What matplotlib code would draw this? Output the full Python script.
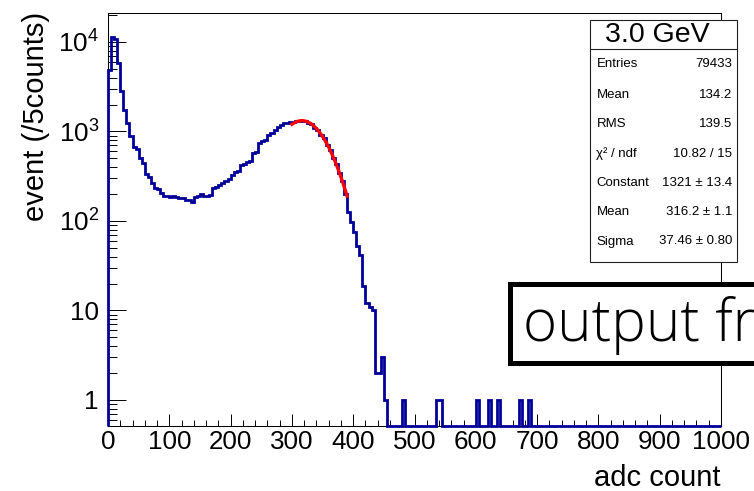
import numpy as np
import matplotlib.pyplot as plt
from matplotlib.patches import Rectangle
from matplotlib.lines import Line2D
from matplotlib.ticker import FixedLocator, FixedFormatter, MultipleLocator, LogLocator, NullFormatter

plt.rcParams['font.family'] = ['Liberation Sans', 'DejaVu Sans']
plt.rcParams['mathtext.fontset'] = 'custom'
plt.rcParams['mathtext.rm'] = 'Liberation Sans'
plt.rcParams['mathtext.it'] = 'Liberation Sans:italic'

# ---- data ----
bin_width = 5  # adc counts per bin
# counts for bins 0..90 (0-455 adc)
counts_low = [4900, 11500, 10800, 5800, 2850, 1750, 1250, 890, 670, 640,
              505, 445, 335, 310, 266, 234, 228, 206, 190, 192,
              186, 188, 187, 180, 179, 173, 171, 164, 186, 188,
              198, 190, 189, 195, 232, 240, 252, 265, 283, 295,
              325, 352, 365, 420, 432, 458, 465, 570, 590, 735,
              790, 805, 912, 955, 1035, 1130, 1175, 1230, 1255, 1290,
              1265, 1295, 1305, 1320, 1295, 1250, 1215, 1105, 1045, 915,
              845, 710, 615, 510, 430, 345, 278, 200, 127, 98,
              76, 52, 42, 19, 12, 11, 10, 2, 2, 3,
              1]
# lone single-count bins further out (left edge of bin, adc)
single_hits = [480, 535, 540, 600, 620, 635, 670, 685]

# gaussian fit from the stat box
fit_const = 1321
fit_mean = 316.2
fit_sigma = 37.46
fit_range = (300, 390)

stat_title = '3.0 GeV'
stat_names = ['Entries', 'Mean', 'RMS', 'χ² / ndf', 'Constant', 'Mean', 'Sigma']
stat_values = ['79433', '134.2', '139.5', '10.82 / 15', '1321 ± 13.4',
               '316.2 ± 1.1', '37.46 ± 0.80']

xtick_vals = [0, 100, 200, 300, 400, 500, 600, 700, 800, 900, 1000]
ytick_vals = [1, 10, 100, 1000, 10000]
ytick_labels = ['1', '10', r'$\mathregular{10^{2}}$', r'$\mathregular{10^{3}}$',
                r'$\mathregular{10^{4}}$']

note_text = 'output fr'

# ---- layout (pixels of a 754x491 canvas) ----
W, H = 754, 491


def fx(px):
  return px / W


def fy(py):
  return 1 - py / H


fig = plt.figure(figsize=(W / 100, H / 100), dpi=100)
ax = fig.add_axes([fx(108), fy(426), fx(721) - fx(108), fy(12.7) - fy(426)])

ymin, ymax = 0.512, 21240
edges = np.arange(0, 1000 + bin_width, bin_width)
counts = np.zeros(len(edges) - 1)
counts[:len(counts_low)] = counts_low
for a in single_hits:
  counts[a // bin_width] = 1
plot_vals = np.where(counts > 0, counts, ymin)  # empty bins sit on the floor

ax.stairs(plot_vals, edges, baseline=ymin, color='#000099', lw=2.0,
          clip_on=False, zorder=3)

xf = np.linspace(fit_range[0], fit_range[1], 200)
yf = fit_const * np.exp(-0.5 * ((xf - fit_mean) / fit_sigma) ** 2)
ax.plot(xf, yf, color='red', lw=2.4, zorder=4)

ax.set_yscale('log')
ax.set_xlim(0, 1000)
ax.set_ylim(ymin, ymax)

ax.xaxis.set_major_locator(FixedLocator(xtick_vals))
ax.xaxis.set_minor_locator(MultipleLocator(20))
ax.yaxis.set_major_locator(FixedLocator(ytick_vals))
ax.yaxis.set_major_formatter(FixedFormatter(ytick_labels))
ax.yaxis.set_minor_locator(LogLocator(base=10, subs=np.arange(2, 10)))
ax.yaxis.set_minor_formatter(NullFormatter())

ax.tick_params(axis='x', which='major', direction='in', length=8.9, width=0.7,
               labelsize=18.7, pad=3)
ax.tick_params(axis='x', which='minor', direction='in', length=4.5, width=0.7)
ax.tick_params(axis='y', which='major', direction='in', length=13, width=0.7,
               labelsize=18.7, pad=6.5)
ax.tick_params(axis='y', which='minor', direction='in', length=6.5, width=0.7)
for s in ax.spines.values():
  s.set_linewidth(0.75)

fig.text(fx(721), fy(486), 'adc count', ha='right', va='baseline', fontsize=21)
fig.text(fx(36), fy(12), 'event (/5counts)', ha='center', va='top',
         rotation=90, fontsize=21)

# ---- stat box ----
bx0, bx1, by0, by1, bsep = 590, 737, 20, 262, 48.5
fig.add_artist(Rectangle((fx(bx0), fy(by1)), fx(bx1) - fx(bx0), fy(by0) - fy(by1),
                         transform=fig.transFigure, facecolor='white',
                         edgecolor='#222222', lw=0.8, zorder=5))
fig.add_artist(Line2D([fx(bx0), fx(bx1)], [fy(bsep), fy(bsep)],
                      transform=fig.transFigure, color='#222222', lw=0.8, zorder=6))
fig.text(fx(657), fy(34.5), stat_title, ha='center', va='center', fontsize=20.5,
         zorder=7)
row_y = [64, 94.5, 124, 154, 183, 212.5, 241.5]
for name, val, ry in zip(stat_names, stat_values, row_y):
  fig.text(fx(596.5), fy(ry), name, ha='left', va='center', fontsize=9.5, zorder=7)
  fig.text(fx(732), fy(ry), val, ha='right', va='center', fontsize=9.5, zorder=7)

# ---- annotation box cut off at the right edge ----
fig.add_artist(Rectangle((fx(509.5), fy(362.5)), fx(800) - fx(509.5),
                         fy(284) - fy(362.5), transform=fig.transFigure,
                         facecolor='white', edgecolor='black', lw=3.6, zorder=5))
fig.text(fx(523), fy(341), note_text, ha='left', va='baseline', fontsize=42,
         family=['Open Sans', 'DejaVu Sans'], fontweight='light', zorder=7)

fig.savefig('out.png', dpi=100)
